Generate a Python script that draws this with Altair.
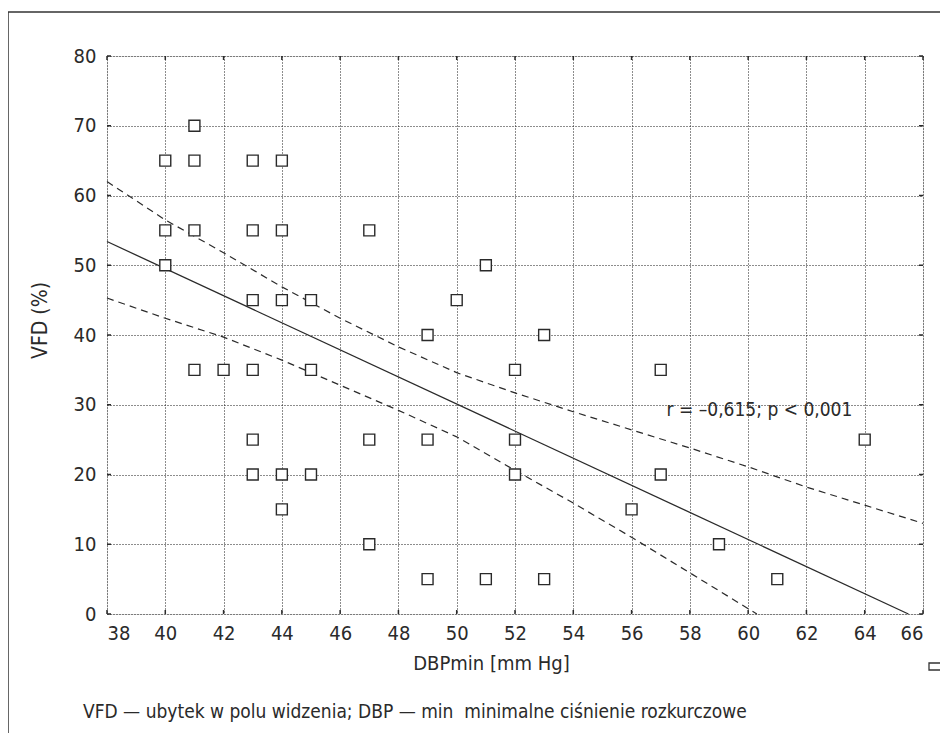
import altair as alt
import pandas as pd

FONT = "Liberation Sans Narrow, DejaVu Sans Condensed, sans-serif"
INK = "#2a2a2a"

# observed points (DBPmin, VFD)
pt_x = [41, 40, 41, 43, 44, 40, 41, 43, 44, 40, 43, 44, 45, 41, 42, 43, 45, 43, 43, 44, 45,
        44, 47, 51, 50, 49, 53, 52, 47, 49, 52, 52, 47, 49, 51, 53, 56, 57, 57, 59, 61, 64]
pt_y = [70, 65, 65, 65, 65, 55, 55, 55, 55, 50, 45, 45, 45, 35, 35, 35, 35, 25, 20, 20, 20,
        15, 55, 50, 45, 40, 40, 35, 25, 25, 25, 20, 10, 5, 5, 5, 15, 35, 20, 10, 5, 25]

# regression line
fit_x = [38, 65.5]
fit_y = [53.4, 0]

# confidence band
up_x = [38, 40, 42, 44, 46, 48, 50, 52, 54, 56, 58, 60, 62, 64, 66]
up_y = [62.0, 56.5, 51.8, 46.9, 42.4, 38.3, 34.6, 31.7, 29.0, 26.4, 23.8, 21.1, 18.2, 15.6, 13.0]
lo_x = [38, 40, 42, 44, 46, 48, 50, 52, 54, 56, 58, 60.3]
lo_y = [45.3, 42.4, 39.7, 36.4, 32.8, 29.2, 25.4, 20.6, 15.9, 11.0, 5.9, 0.0]

x_ticks = list(range(38, 67, 2))
y_ticks = list(range(0, 81, 10))

ann_text = ["r = –0,615; p < 0,001"]
ann_x = [57.2]
ann_y = [29.3]

x_title = "DBPmin [mm Hg]"
y_title = "VFD (%)"
footer = ["VFD — ubytek w polu widzenia; DBP — min\u00a0 minimalne ciśnienie rozkurczowe"]

W, H = 816, 558

xs = alt.Scale(domain=[38, 66], nice=False, zero=False)
ys = alt.Scale(domain=[0, 80], nice=False, zero=True)

pts = pd.DataFrame({"x": pt_x, "y": pt_y})
fit = pd.DataFrame({"x": fit_x, "y": fit_y})
up = pd.DataFrame({"x": up_x, "y": up_y})
lo = pd.DataFrame({"x": lo_x, "y": lo_y})
ann = pd.DataFrame({"x": ann_x, "y": ann_y, "t": ann_text})
xt = pd.DataFrame({"x": x_ticks})
yt = pd.DataFrame({"y": y_ticks})
foot = pd.DataFrame({"t": footer})

x_axis = alt.Axis(values=x_ticks, grid=True, gridDash=[1, 2], gridColor="#1a1a1a", gridWidth=1,
                  domain=False, ticks=False, labelFont=FONT, labelFontSize=20, labelColor=INK,
                  labelPadding=9, title=x_title, titleFont=FONT, titleFontSize=20,
                  titleFontWeight="normal", titleColor=INK, titleX=384, titleY=49,
                  titleBaseline="middle", titleAlign="center")
y_axis = alt.Axis(values=y_ticks, grid=True, gridDash=[1, 2], gridColor="#1a1a1a", gridWidth=1,
                  domain=False, ticks=False, labelFont=FONT, labelFontSize=20, labelColor=INK,
                  labelPadding=11, labelBaseline="middle", title=y_title, titleFont=FONT,
                  titleFontSize=21, titleFontWeight="normal", titleColor=INK, titleX=-67,
                  titleY=264, titleBaseline="middle", titleAlign="center", titleAngle=-90)

X = alt.X("x:Q", scale=xs, axis=x_axis)
Y = alt.Y("y:Q", scale=ys, axis=y_axis)

fit_line = alt.Chart(fit).mark_line(color=INK, strokeWidth=1.3).encode(x=X, y=Y)
up_line = alt.Chart(up).mark_line(color=INK, strokeWidth=1.2, strokeDash=[7, 5]).encode(x=X, y=Y)
lo_line = alt.Chart(lo).mark_line(color=INK, strokeWidth=1.2, strokeDash=[7, 5]).encode(x=X, y=Y)
points = alt.Chart(pts).mark_point(shape="square", size=120, filled=True, fill="white",
                                   stroke=INK, strokeWidth=1.4, opacity=1).encode(x=X, y=Y)
note = alt.Chart(ann).mark_text(font=FONT, fontSize=19, color=INK, align="left",
                                baseline="middle").encode(x=X, y=Y, text="t:N")

# inward tick marks on all four sides
yt_left = alt.Chart(yt).mark_rule(color=INK, strokeWidth=1.5).encode(
    y=Y, x=alt.value(0), x2=alt.value(4))
yt_right = alt.Chart(yt).mark_rule(color=INK, strokeWidth=1.5).encode(
    y=Y, x=alt.value(W - 4), x2=alt.value(W))
xt_top = alt.Chart(xt).mark_rule(color=INK, strokeWidth=1.5).encode(
    x=X, y=alt.value(0), y2=alt.value(4))
xt_bot = alt.Chart(xt).mark_rule(color=INK, strokeWidth=1.5).encode(
    x=X, y=alt.value(H - 4), y2=alt.value(H))

# figure frame (top and left) and footer
frame_left = alt.Chart(foot).mark_rule(color="#333", strokeWidth=1.5).encode(
    x=alt.value(-99), y=alt.value(-44), y2=alt.value(680))
frame_top = alt.Chart(foot).mark_rule(color="#333", strokeWidth=1.5).encode(
    y=alt.value(-44), x=alt.value(-99), x2=alt.value(840))
foot_text = alt.Chart(foot).mark_text(font=FONT, fontSize=19, color=INK, align="left",
                                      baseline="middle").encode(
    x=alt.value(-24), y=alt.value(656), text="t:N")
legend_box = alt.Chart(foot).mark_rect(fill="white", stroke="#333", strokeWidth=1.3).encode(
    x=alt.value(822), x2=alt.value(836), y=alt.value(607), y2=alt.value(614))

chart = alt.layer(
    fit_line, up_line, lo_line, points, note,
    yt_left, yt_right, xt_top, xt_bot,
    frame_left, frame_top, foot_text, legend_box,
).properties(
    width=W, height=H,
    autosize=alt.AutoSizeParams(type="none"),
    padding={"left": 99, "top": 48, "right": 17, "bottom": 119},
).configure_view(
    stroke="#333", strokeWidth=1.8, clip=False
).configure(background="white")

chart.save("out.html", embed_options={"renderer": "svg", "actions": False})
